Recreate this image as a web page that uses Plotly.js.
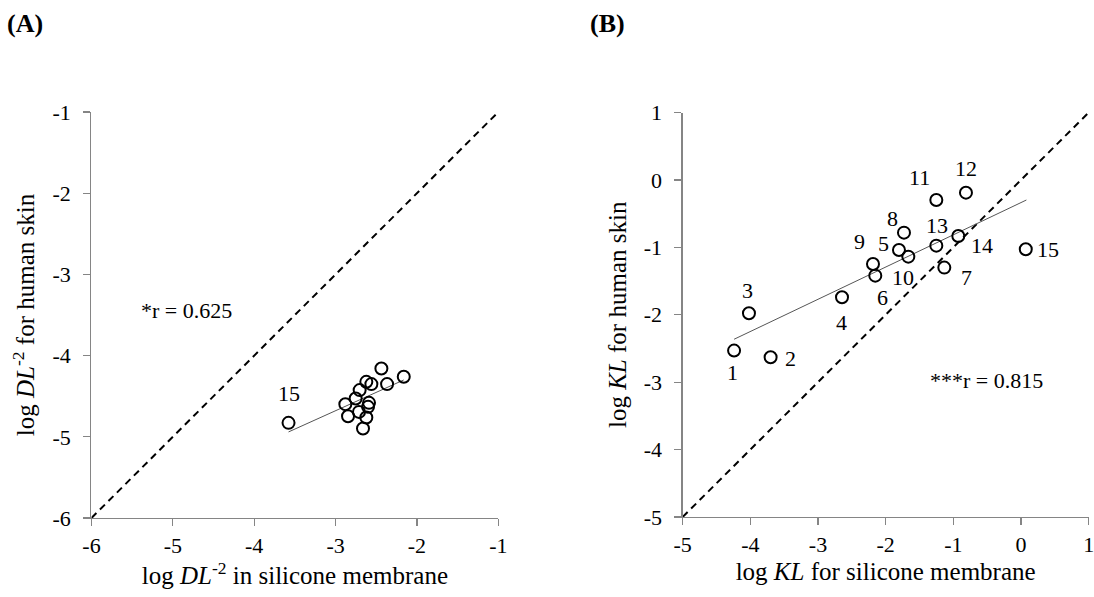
<!DOCTYPE html>
<html>
<head>
<meta charset="utf-8">
<script src="https://cdn.plot.ly/plotly-3.0.1.min.js"></script>
<style>html,body{margin:0;padding:0;background:#fff;}#chart{width:1094px;height:597px;}</style>
</head>
<body>
<div id="chart"></div>
<script>
// Panel A: log DL^-2
const silDL = [-3.578, -2.437, -2.162, -2.367, -2.622, -2.560, -2.704, -2.753, -2.880, -2.589, -2.601, -2.712, -2.847, -2.622, -2.663];
const skinDL = [-4.828, -4.158, -4.261, -4.351, -4.323, -4.351, -4.425, -4.528, -4.598, -4.582, -4.631, -4.693, -4.746, -4.763, -4.898];
const trendA_x = [-3.578, -2.162];
const trendA_y = [-4.94, -4.30];
const identA = [-6, -1];
const rTextA = "*r = 0.625";

// Panel B: log KL
const compoundsB = ["1","2","3","4","5","6","7","8","9","10","11","12","13","14","15"];
const silKL = [-4.24, -3.70, -4.02, -2.645, -1.803, -2.153, -1.133, -1.729, -2.187, -1.665, -1.251, -0.813, -1.251, -0.926, 0.071];
const skinKL = [-2.531, -2.630, -1.977, -1.740, -1.038, -1.419, -1.300, -0.781, -1.246, -1.137, -0.297, -0.188, -0.974, -0.830, -1.028];
const trendB_x = [-4.24, 0.08];
const trendB_y = [-2.363, -0.297];
const identB = [-5, 1];
const rTextB = "***r = 0.815";

const ticksA = [-6, -5, -4, -3, -2, -1];
const tickLabelsA = ["-6", "-5", "-4", "-3", "-2", "-1"];
const ticksB = [-5, -4, -3, -2, -1, 0, 1];
const tickLabelsB = ["-5", "-4", "-3", "-2", "-1", "0", "1"];

// label placement (pixel shifts), layout only
const labelShiftB = [[-2,-22],[20,-1],[-1,23],[-1,-25],[-15,6],[7,-22],[22,-10],[-11,14],[-13,22],[-5,-21],[-17,23],[0,24],[1,20],[24,-10],[22,0]];

const FONT = "Liberation Serif, Times New Roman, serif";
const AX = "#858585";
const TICKF = {family: FONT, size: 22, color: "#000"};
const TITLEF = {family: FONT, size: 25, color: "#000"};
const LABF = {family: FONT, size: 22, color: "#000"};

const markerStyle = {symbol: "circle-open", size: 12, color: "#000", line: {width: 2, color: "#000"}};

const traces = [
  {x: identA, y: identA, xaxis: "x", yaxis: "y", mode: "lines", line: {color: "#000", width: 2, dash: "7px,5px"}, hoverinfo: "skip"},
  {x: trendA_x, y: trendA_y, xaxis: "x", yaxis: "y", mode: "lines", line: {color: "#555", width: 1}},
  {x: silDL, y: skinDL, xaxis: "x", yaxis: "y", mode: "markers", marker: markerStyle},
  {x: identB, y: identB, xaxis: "x2", yaxis: "y2", mode: "lines", line: {color: "#000", width: 2, dash: "7px,5px"}, hoverinfo: "skip"},
  {x: trendB_x, y: trendB_y, xaxis: "x2", yaxis: "y2", mode: "lines", line: {color: "#555", width: 1}},
  {x: silKL, y: skinKL, xaxis: "x2", yaxis: "y2", mode: "markers", marker: markerStyle}
];

function axisBase(extra) {
  return Object.assign({
    showline: true, linecolor: AX, linewidth: 1.3, mirror: false,
    ticks: "outside", ticklen: 7, tickcolor: AX, tickwidth: 1.3,
    showgrid: false, zeroline: false, tickmode: "array",
    ticklabeloverflow: "allow",
    tickfont: TICKF
  }, extra);
}

const annotations = [];
compoundsB.forEach((c, i) => {
  annotations.push({x: silKL[i], y: skinKL[i], xref: "x2", yref: "y2", text: c, showarrow: false,
    xshift: labelShiftB[i][0], yshift: labelShiftB[i][1], font: LABF});
});
annotations.push({x: silDL[0], y: skinDL[0], xref: "x", yref: "y", text: "15", showarrow: false, xshift: 0, yshift: 29, font: LABF});
annotations.push({x: -4.83, y: -3.44, xref: "x", yref: "y", text: rTextA, showarrow: false, font: LABF});
annotations.push({x: -1.37, y: -2.97, xref: "x2", yref: "y2", text: rTextB, showarrow: false, xanchor: "left", font: LABF});
annotations.push({x: 5 / 1094, y: 1 - 24 / 597, xref: "paper", yref: "paper", text: "<b>(A)</b>", showarrow: false,
  xanchor: "left", yanchor: "middle", font: {family: FONT, size: 26, color: "#000"}});
annotations.push({x: 588 / 1094, y: 1 - 24 / 597, xref: "paper", yref: "paper", text: "<b>(B)</b>", showarrow: false,
  xanchor: "left", yanchor: "middle", font: {family: FONT, size: 26, color: "#000"}});

const layout = {
  width: 1094, height: 597,
  margin: {l: 0, r: 0, t: 0, b: 0},
  paper_bgcolor: "#fff", plot_bgcolor: "#fff",
  showlegend: false,
  font: {family: FONT, color: "#000"},
  xaxis: axisBase({domain: [0.0836, 0.4555], range: [-6, -1], tickvals: ticksA, ticktext: tickLabelsA, anchor: "y",
    ticklabelstandoff: 0,
    title: {text: "log <i>DL</i><sup>-2</sup> in silicone membrane", font: TITLEF, standoff: 6}}),
  yaxis: axisBase({domain: [0.1323, 0.8124], range: [-6, -1], tickvals: ticksA, ticktext: tickLabelsA, anchor: "x",
    ticklabelstandoff: 8,
    title: {text: "log <i>DL</i><sup>-2</sup> for human skin", font: TITLEF, standoff: 10}}),
  xaxis2: axisBase({domain: [0.6240, 0.9951], range: [-5, 1], tickvals: ticksB, ticktext: tickLabelsB, anchor: "y2",
    ticklabelstandoff: 0,
    title: {text: "log <i>KL</i> for silicone membrane", font: TITLEF, standoff: 6}}),
  yaxis2: axisBase({domain: [0.1340, 0.8114], range: [-5, 1], tickvals: ticksB, ticktext: tickLabelsB, anchor: "x2",
    ticklabelstandoff: 8,
    title: {text: "log <i>KL</i> for human skin", font: TITLEF, standoff: 10}}),
  annotations: annotations
};

Plotly.newPlot("chart", traces, layout, {displayModeBar: false, staticPlot: true});
</script>
</body>
</html>
